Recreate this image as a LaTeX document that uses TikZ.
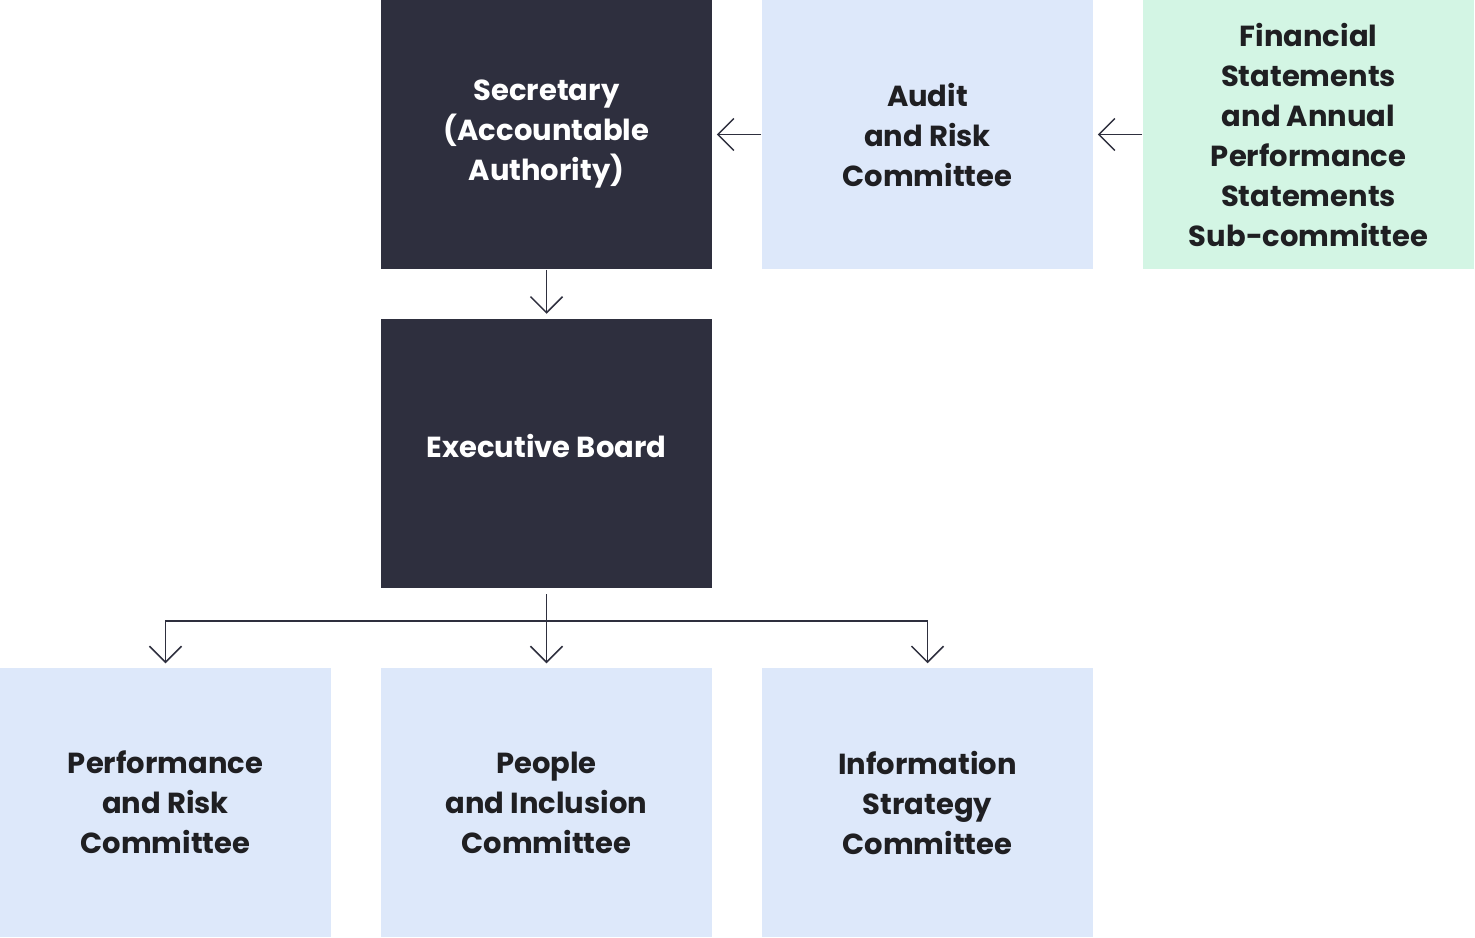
\documentclass[tikz,border=0pt]{standalone}
\usepackage{fontspec}
\newfontfamily\boxfont{Poppins Bold}
\usetikzlibrary{positioning,arrows.meta,calc}
\definecolor{navy}{HTML}{2E2F3E}
\definecolor{paleblue}{HTML}{DDE8FA}
\definecolor{palegreen}{HTML}{D3F5E4}
\definecolor{ink}{HTML}{1F1F22}

\begin{document}
\begin{tikzpicture}[x=1pt,y=-1pt,line width=1.5pt]
\tikzstyle{dk} = [fill=navy,text=white,shape=rectangle,minimum width=331pt,minimum height=269pt,inner sep=0pt,align=center,font=\boxfont\fontsize{29}{40}\selectfont]
\tikzstyle{lb} = [dk,fill=paleblue,text=ink]
\tikzstyle{lg} = [dk,fill=palegreen,text=ink]
\tikzstyle{link} = [draw=navy,-{Straight Barb[length=16pt,width=32pt,line width=1.5pt]},shorten >=4pt]
\useasboundingbox (0,0) rectangle (1475,937);
\node[dk] (sec) at (546.5,134.5) {Secretary\\(Accountable\\Authority)} ;
\node[lb] (audit) at (927.5,134.5) {Audit\\and Risk\\Committee} ;
\node[lg] (fin) at (1308.5,134.5) {Financial\\Statements\\and Annual\\Performance\\Statements\\Sub-committee} ;
\node[dk] (exec) at (546.5,453) {\raisebox{15pt}{Executive Board}} ;
\node[lb] (perf) at (165.5,802.5) {Performance\\and Risk\\Committee} ;
\node[lb] (people) at (546.5,802.5) {People\\and Inclusion\\Committee} ;
\node[lb] (info) at (927.5,802.5) {Information\\Strategy\\Committee} ;
\coordinate (split) at (546.5,621);
\draw [link] (audit) -- (sec) ;
\draw [link] (fin) -- (audit) ;
\draw [link] (sec) -- (exec) ;
\draw [link,shorten <=6pt] (exec) -- (people) ;
\draw [link] (split) -| (perf) ;
\draw [link] (split) -| (info) ;
\end{tikzpicture}
\end{document}
